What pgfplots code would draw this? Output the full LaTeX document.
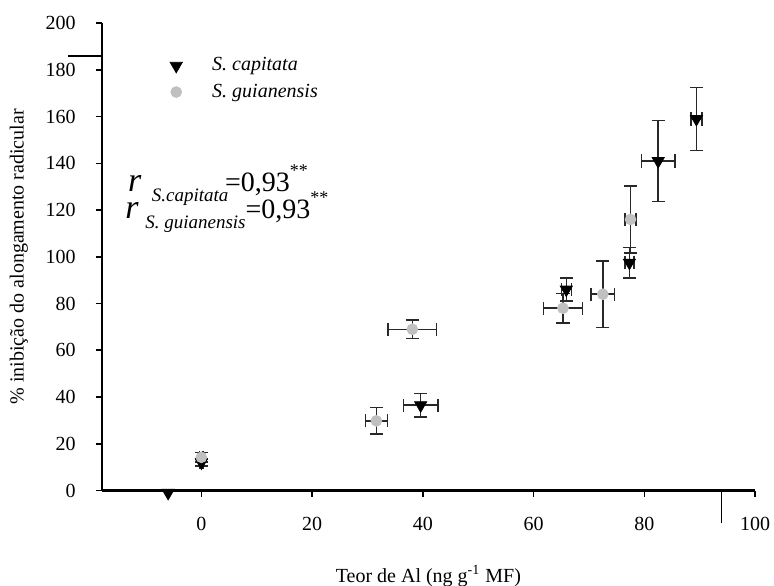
\documentclass[border=0pt]{standalone}
\usepackage{pgfplots}
\pgfplotsset{compat=1.18}
\usepackage{pgfplotstable}
\usepackage{fontspec}
\setmainfont{Liberation Serif}
\definecolor{lgray}{RGB}{192,192,192}
\definecolor{ebar}{RGB}{40,40,40}

\pgfplotstableread{
x y ex ey
0 12 0.3 1.5
39.6 36.5 3.1 5
65.9 86 0.9 4.9
77.3 97.5 0.8 6.5
82.5 141 3 17.4
89.4 159 1 13.5
}\capitata

\pgfplotstableread{
x y ex ey
0 14.2 0.3 2
31.6 29.8 2 5.7
38.1 69 4.4 4
65.3 78 3.5 6.4
72.5 84 2.1 14.3
77.5 116 1 14.4
}\guianensis

\begin{document}
\begin{tikzpicture}
\path[use as bounding box] (0,0) rectangle (387pt,292.5pt);
\begin{axis}[
  at={(50.85pt,47.25pt)}, anchor=south west,
  scale only axis, width=326.7pt, height=233.7pt,
  xmin=-18, xmax=100, ymin=0, ymax=200,
  xtick={0,20,...,100}, ytick={0,20,...,200},
  axis x line=bottom, axis y line=left,
  axis line style={-, line width=1.2pt, black},
  tick style={line width=0.8pt, black},
  tick align=outside, major tick length=3pt,
  /pgf/number format/assume math mode=true,
  tick label style={font=\fontsize{10}{12}\selectfont},
  xticklabel style={yshift=-7pt},
  yticklabel style={xshift=-6.5pt},
  label style={font=\fontsize{10}{12}\selectfont},
  xlabel={Teor de Al (ng g\textsuperscript{-1} MF)},
  ylabel={\% inibição do alongamento radicular},
  xlabel style={at={(axis description cs:0.5,-0.183)}, anchor=center},
  ylabel style={at={(axis description cs:-0.127,0.5)}, anchor=center},
  clip=false,
  legend cell align=left,
  legend image code/.code={\draw[mark repeat=1,#1] plot coordinates {(0pt,0pt)}; \path[draw=none,fill=none] (0pt,0pt) -- (16pt,0pt);},
  legend style={draw=none, fill=none, at={(axis description cs:0.095,0.944)}, anchor=north west,
    font=\fontsize{10}{12}\selectfont, row sep=1pt},
]
\addplot[only marks, mark=triangle*, mark size=3.5pt, mark options={rotate=180, fill=black, draw=black},
  error bars/.cd, x dir=both, x explicit, y dir=both, y explicit,
  error bar style={line width=0.75pt, ebar},
  error mark=-,
  error mark options={rotate=90, line width=0.75pt, ebar, mark size=3.3pt}]
  table[x=x, y=y, x error=ex, y error=ey] {\capitata};
\addlegendentry{\textit{S. capitata}}
\addplot[only marks, mark=*, mark size=2.7pt, mark options={fill=lgray, draw=lgray},
  error bars/.cd, x dir=both, x explicit, y dir=both, y explicit,
  error bar style={line width=0.75pt, ebar},
  error mark=-,
  error mark options={rotate=90, line width=0.75pt, ebar, mark size=3.3pt}]
  table[x=x, y=y, x error=ex, y error=ey] {\guianensis};
\addlegendentry{\textit{S. guianensis}}
\addplot[forget plot, only marks, mark=triangle*, mark size=3.5pt, mark options={rotate=180, fill=black, draw=black}]
  coordinates {(-6,-1)};
\draw[line width=0.7pt] (axis cs:-24.1,186) -- (axis cs:-18,186);
\draw[line width=0.7pt] (axis cs:93.9,0) -- (axis cs:93.9,-13.9);
% line 1
\node[anchor=base west, inner sep=0pt, text height=0.45em, text depth=0pt, font=\fontsize{17}{18}\selectfont\itshape] at (axis cs:-13.3,128.1) {r};
\node[anchor=base west, inner sep=0pt, text height=0.7em, text depth=0pt, font=\fontsize{9.5}{10}\selectfont\itshape] at (axis cs:-9.0,123.6) {S.capitata};
\node[anchor=base west, inner sep=0pt, font=\fontsize{14}{16}\selectfont] at (axis cs:4.2,128.1) {=0,93\raisebox{7.5pt}{\fontsize{9}{10}\selectfont **}};
% line 2
\node[anchor=base west, inner sep=0pt, text height=0.45em, text depth=0pt, font=\fontsize{17}{18}\selectfont\itshape] at (axis cs:-13.8,116.6) {r};
\node[anchor=base west, inner sep=0pt, text height=0.7em, text depth=0.2em, font=\fontsize{9.5}{10}\selectfont\itshape] at (axis cs:-10.2,112.0) {S. guianensis};
\node[anchor=base west, inner sep=0pt, text height=0.7em, text depth=0pt, font=\fontsize{14}{16}\selectfont] at (axis cs:7.9,116.6) {=0,93\raisebox{7.5pt}{\fontsize{9}{10}\selectfont **}};
\end{axis}
\end{tikzpicture}
\end{document}
